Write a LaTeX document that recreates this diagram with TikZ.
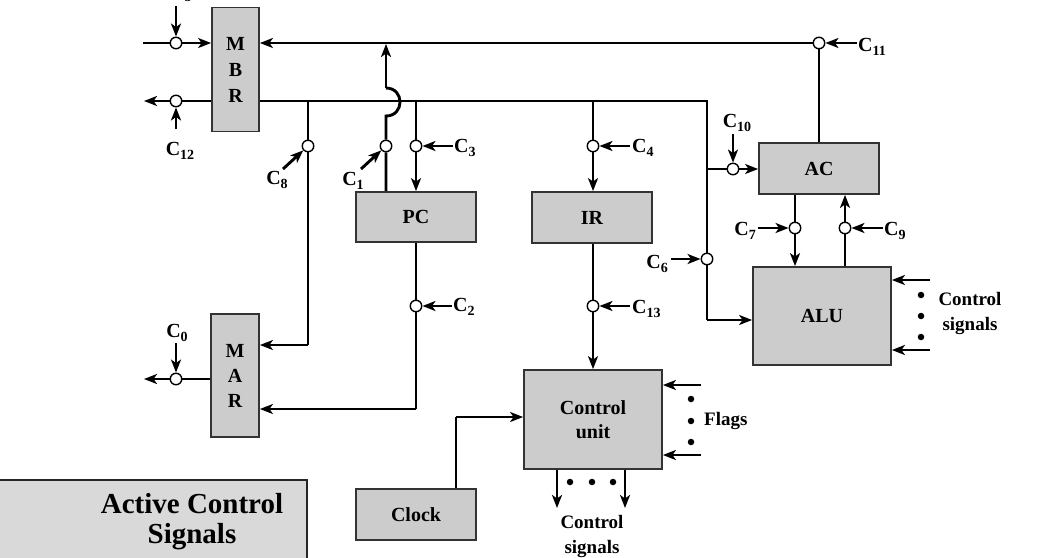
\documentclass[tikz,border=0pt]{standalone}
\usepackage{fontspec}
\setmainfont{Liberation Serif}
\usetikzlibrary{arrows.meta,backgrounds}
\newcommand{\Csub}[1]{C\raisebox{-4.5pt}{\fontsize{14}{14}\selectfont #1}}
\begin{document}
\begin{tikzpicture}[x=1pt,y=-1pt,
  reg/.style={draw=black!80, fill=black!20, line width=1.8pt, inner sep=0pt,
    font=\fontsize{20}{24}\selectfont\bfseries, align=center},
  gate/.style={circle, draw=black, fill=white, minimum size=11.5pt, inner sep=0pt, line width=1.4pt},
  lbl/.style={inner sep=0pt, font=\fontsize{20}{22}\selectfont\bfseries},
  txt/.style={inner sep=0pt, font=\fontsize{19}{25}\selectfont\bfseries, align=center},
  wire/.style={line width=2.9pt},
  arr/.style={wire, -{Stealth[length=13pt,width=10pt,inset=3.5pt]}},
  blob/.style={circle, fill=black, minimum size=6.5pt, inner sep=0pt}
]
\useasboundingbox (0,0) rectangle (1056,557);

% boxes
\node[reg, minimum width=47pt, minimum height=124pt, font=\fontsize{20}{26}\selectfont\bfseries] (MBR) at (235.5,69.5) {M\\B\\R};
\node[reg, minimum width=48pt, minimum height=123pt, font=\fontsize{20}{25}\selectfont\bfseries] (MAR) at (235,375.5) {M\\A\\R};
\node[reg, minimum width=120pt, minimum height=50pt] (PC) at (416,217) {PC};
\node[reg, minimum width=120pt, minimum height=51pt] (IR) at (592,217.5) {IR};
\node[reg, minimum width=120pt, minimum height=51pt] (AC) at (819,168.5) {AC};
\node[reg, minimum width=138pt, minimum height=98pt] (ALU) at (822,316) {ALU};
\node[reg, minimum width=138pt, minimum height=99pt] (CU) at (593,419.5) {Control\\unit};
\node[reg, minimum width=120pt, minimum height=51pt] (Clock) at (416,514.5) {Clock};

% gates
\node[gate] (g5) at (176,43) {};
\node[gate] (g12) at (176,101) {};
\node[gate] (g0) at (176,379) {};
\node[gate] (g8) at (308,146) {};
\node[gate] (g1) at (386,146) {};
\node[gate] (g3) at (416,146) {};
\node[gate] (g4) at (593,146) {};
\node[gate] (g2) at (416,306) {};
\node[gate] (g13) at (593,306) {};
\node[gate] (g6) at (707,259) {};
\node[gate] (g10) at (733,169) {};
\node[gate] (g7) at (795,228) {};
\node[gate] (g9) at (845,228) {};
\node[gate] (g11) at (819,43) {};

% coordinates
\coordinate (busR) at (707,101);
\coordinate (aluin) at (707,320);
\coordinate (acbr) at (707,169);
\coordinate (c8b) at (308,101);
\coordinate (c8e) at (308,345);
\coordinate (c3b) at (416,101);
\coordinate (c4b) at (593,101);
\coordinate (pcL) at (416,409);
\coordinate (clkT) at (456,417);
\coordinate (h1) at (386,116);
\coordinate (h2) at (386,88);
\coordinate (c1t) at (386,44);
\coordinate (inL) at (143,43);
\coordinate (outL) at (144,101);
\coordinate (marL) at (144,379);
\coordinate (t5) at (176,6);
\coordinate (t12) at (176,129);
\coordinate (t0) at (176,343);
\coordinate (t11) at (857,43);
\coordinate (t10) at (733,134);
\coordinate (t6) at (671,259);
\coordinate (t8) at (283,169);
\coordinate (t1) at (361,169);
\coordinate (t3) at (453,146);
\coordinate (t4) at (630,146);
\coordinate (t2) at (452,306);
\coordinate (t13) at (630,306);
\coordinate (t7) at (758,228);
\coordinate (t9) at (883,228);
\coordinate (a1) at (930,280);
\coordinate (a2) at (930,350);
\coordinate (f1) at (701,385);
\coordinate (f2) at (701,455);
\coordinate (o1) at (557,508);
\coordinate (o2) at (625,508);

\begin{scope}[on background layer]
% MBR input/output
\draw[wire] (inL) -- (g5);
\draw[arr] (g5) -- (g5 -| MBR.west);
\draw[arr] (t5) -- (g5);
\draw[wire] (MBR.west |- g12) -- (g12);
\draw[arr] (g12) -- (outL);
\draw[arr] (t12) -- (g12);
% MAR output
\draw[wire] (MAR.west |- g0) -- (g0);
\draw[arr] (g0) -- (marL);
\draw[arr] (t0) -- (g0);
% top line
\draw[arr] (g11) -- (g11 -| MBR.east);
\draw[wire] (g11) -- (g11 |- AC.north);
\draw[arr] (t11) -- (g11);
% main bus
\draw[wire] (MBR.east |- busR) -- (busR) -- (g6) -- (aluin);
\draw[arr] (aluin) -- (aluin -| ALU.west);
\draw[wire] (acbr) -- (g10);
\draw[arr] (g10) -- (g10 -| AC.west);
\draw[arr] (t10) -- (g10);
\draw[arr] (t6) -- (g6);
% C8
\draw[wire] (c8b) -- (g8) -- (c8e);
\draw[arr] (c8e) -- (c8e -| MAR.east);
\draw[arr] (t8) -- (g8);
% C1
\draw[wire] (g1 |- PC.north) -- (g1) -- (h1) .. controls (404.7,116) and (404.7,88) .. (h2);
\draw[arr] (h2) -- (c1t);
\draw[arr] (t1) -- (g1);
% C3
\draw[wire] (c3b) -- (g3);
\draw[arr] (g3) -- (g3 |- PC.north);
\draw[arr] (t3) -- (g3);
% C4
\draw[wire] (c4b) -- (g4);
\draw[arr] (g4) -- (g4 |- IR.north);
\draw[arr] (t4) -- (g4);
% PC -> MAR
\draw[wire] (g2 |- PC.south) -- (g2) -- (pcL);
\draw[arr] (pcL) -- (pcL -| MAR.east);
\draw[arr] (t2) -- (g2);
% IR -> CU
\draw[wire] (g13 |- IR.south) -- (g13);
\draw[arr] (g13) -- (g13 |- CU.north);
\draw[arr] (t13) -- (g13);
% AC <-> ALU
\draw[wire] (g7 |- AC.south) -- (g7);
\draw[arr] (g7) -- (g7 |- ALU.north);
\draw[arr] (t7) -- (g7);
\draw[wire] (g9 |- ALU.north) -- (g9);
\draw[arr] (g9) -- (g9 |- AC.south);
\draw[arr] (t9) -- (g9);
% ALU control signals
\draw[arr] (a1) -- (a1 -| ALU.east);
\draw[arr] (a2) -- (a2 -| ALU.east);
% flags
\draw[arr] (f1) -- (f1 -| CU.east);
\draw[arr] (f2) -- (f2 -| CU.east);
% clock
\draw[wire] (clkT |- Clock.north) -- (clkT);
\draw[arr] (clkT) -- (clkT -| CU.west);
% CU outputs
\draw[arr] (o1 |- CU.south) -- (o1);
\draw[arr] (o2 |- CU.south) -- (o2);
\end{scope}

% dots
\node[blob] (d1) at (921,295) {};
\node[blob] (d2) at (921,316) {};
\node[blob] (d3) at (921,337) {};
\node[blob] (d4) at (691,399) {};
\node[blob] (d5) at (691,421) {};
\node[blob] (d6) at (691,442) {};
\node[blob] (d7) at (570,482) {};
\node[blob] (d8) at (592,482) {};
\node[blob] (d9) at (613,482) {};

% labels
\node[lbl, anchor=base] (l5) at (181,-3) {\Csub{5}};
\node[lbl, anchor=base] (l12) at (180,155) {\Csub{12}};
\node[lbl, anchor=base] (l0) at (177,337) {\Csub{0}};
\node[lbl, anchor=base] (l8) at (277,184) {\Csub{8}};
\node[lbl, anchor=base] (l1) at (353,185) {\Csub{1}};
\node[lbl, anchor=base west] (l3) at (454,152) {\Csub{3}};
\node[lbl, anchor=base west] (l4) at (632,152) {\Csub{4}};
\node[lbl, anchor=base west] (l2) at (453,311) {\Csub{2}};
\node[lbl, anchor=base west] (l13) at (632,313) {\Csub{13}};
\node[lbl, anchor=base] (l10) at (737,127) {\Csub{10}};
\node[lbl, anchor=base east] (l6) at (668,268) {\Csub{6}};
\node[lbl, anchor=base east] (l7) at (756,235) {\Csub{7}};
\node[lbl, anchor=base west] (l9) at (884,235) {\Csub{9}};
\node[lbl, anchor=base west] (l11) at (858,51) {\Csub{11}};

\node[txt] (cs1) at (970,313) {Control\\signals};
\node[txt, anchor=west] (fl) at (704,421) {Flags};
\node[txt] (cs2) at (592,536) {Control\\signals};

% Active control signals box
\draw[draw=black!85, fill=black!15, line width=2.2pt] (-10,480) rectangle (307,580);
\node[inner sep=0pt, align=center, font=\fontsize{29}{30}\selectfont\bfseries] (act) at (192,522) {Active Control\\Signals};
\end{tikzpicture}
\end{document}
